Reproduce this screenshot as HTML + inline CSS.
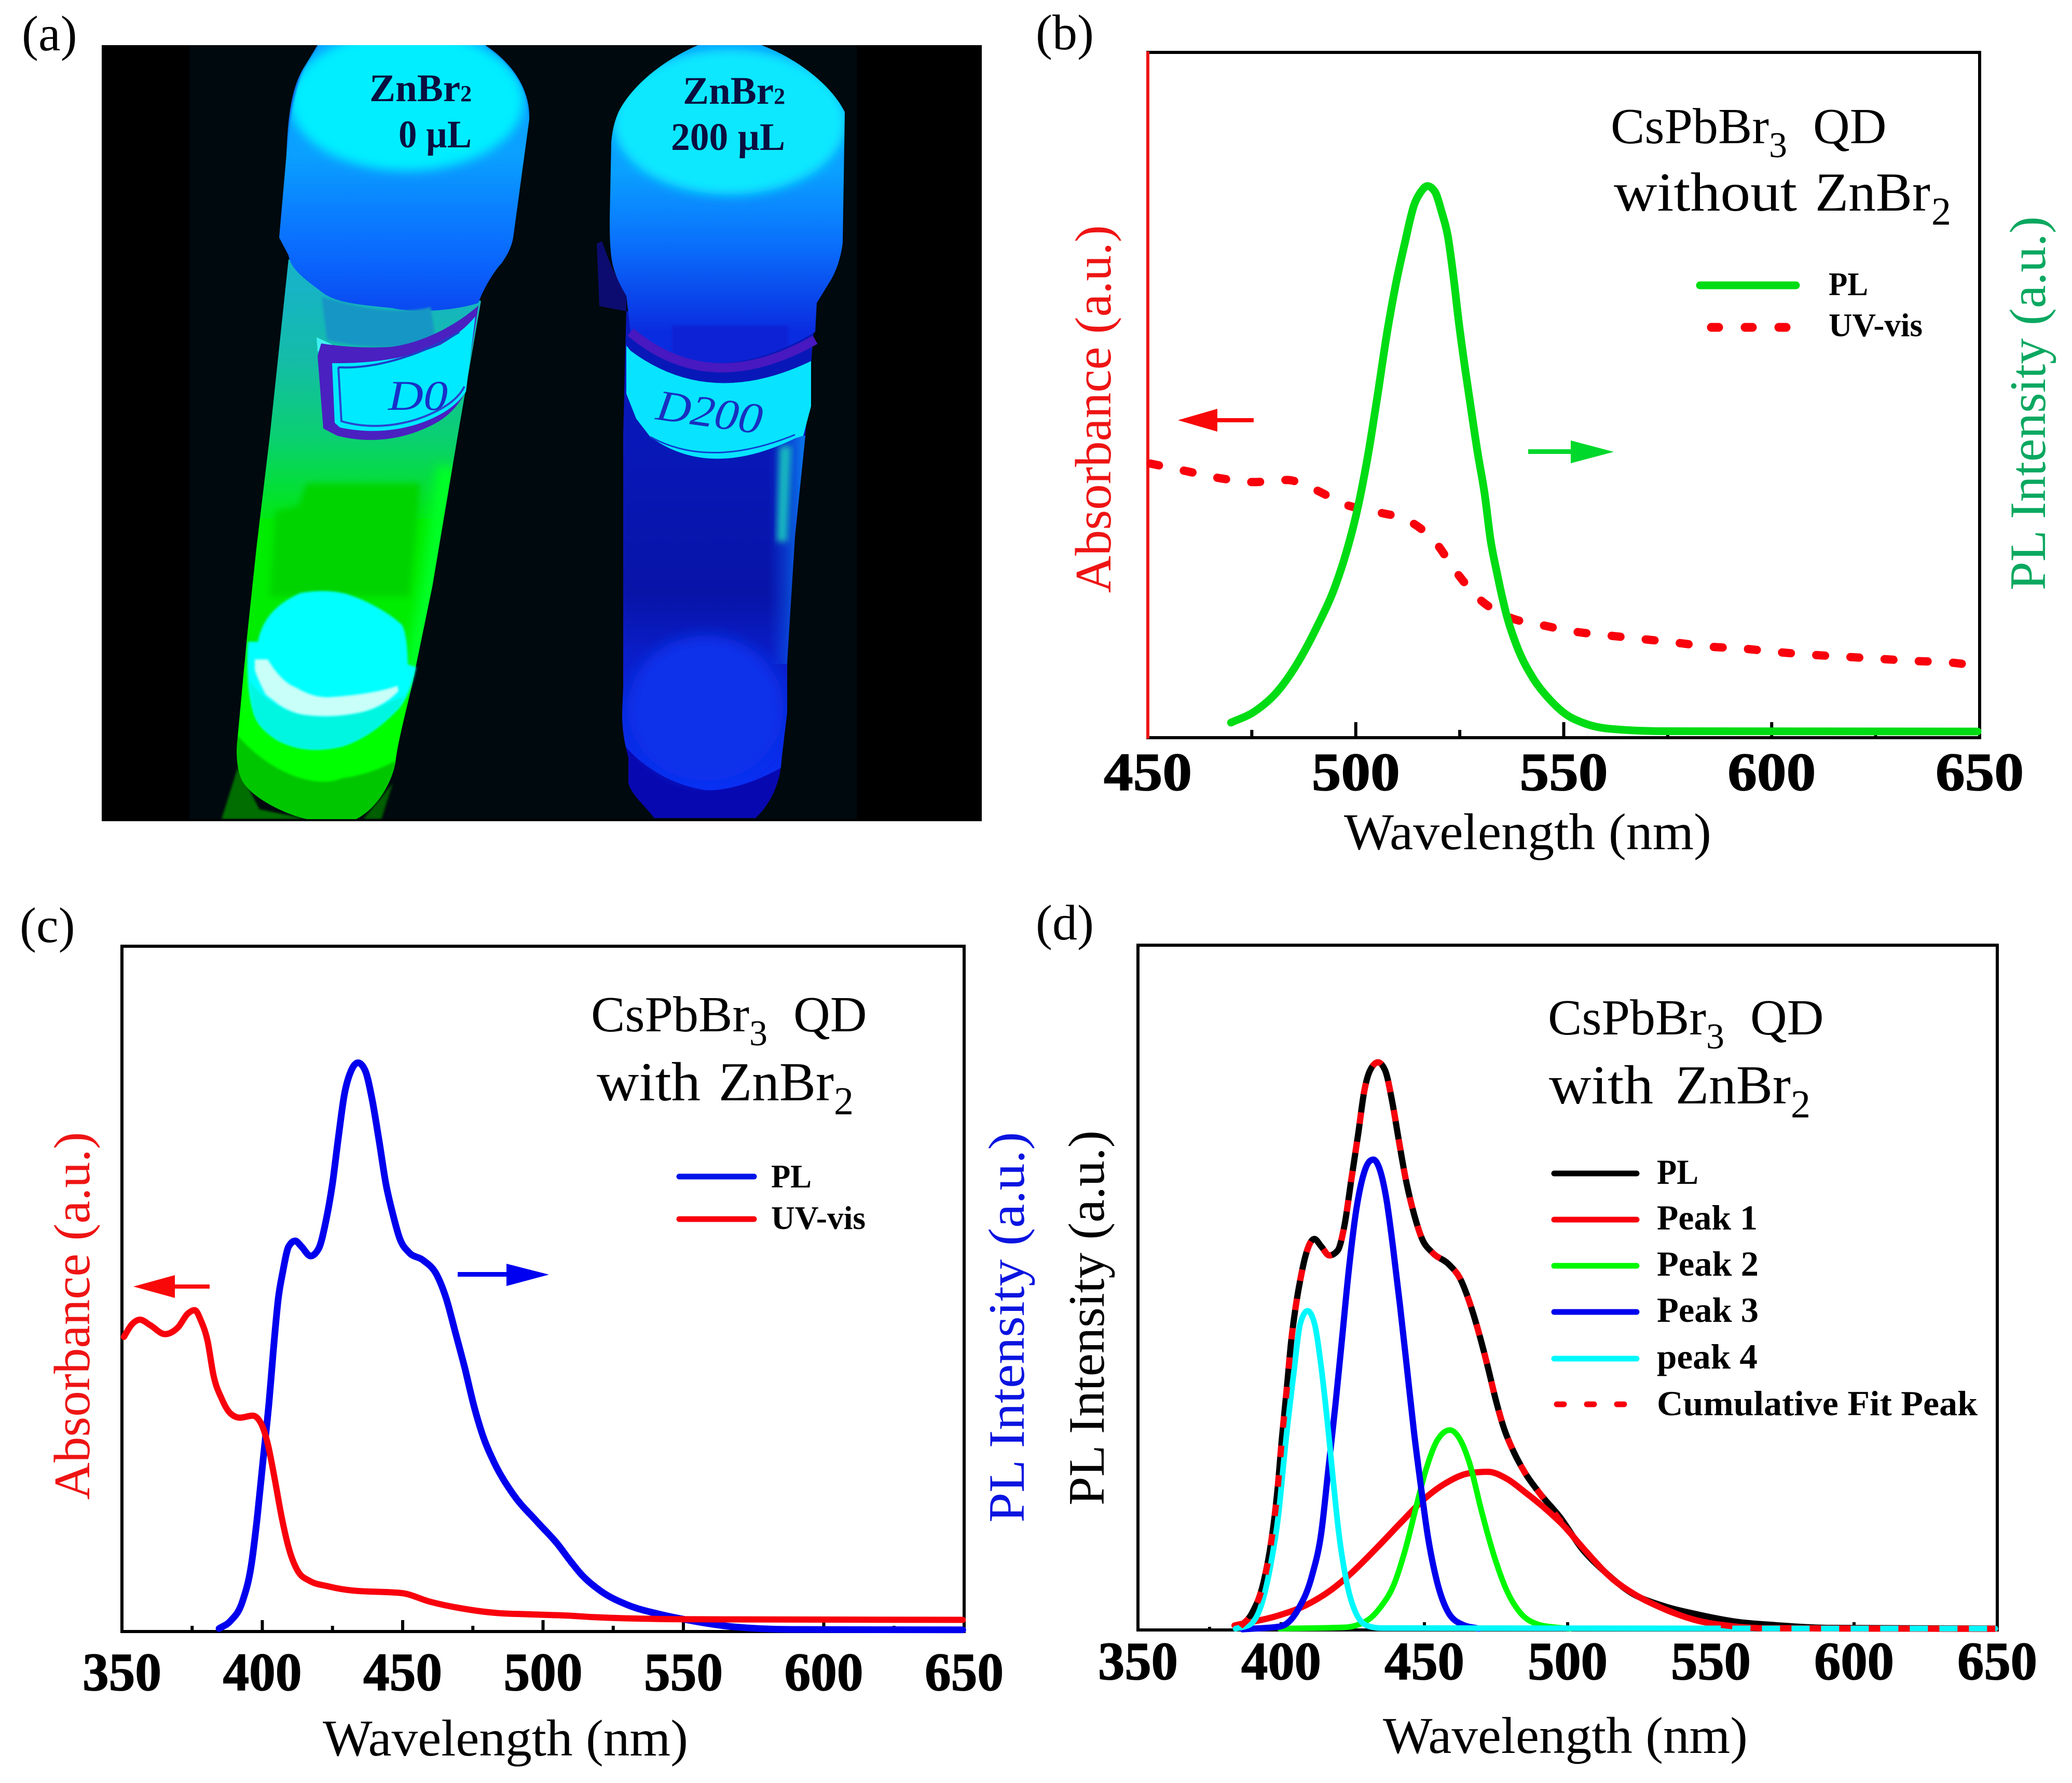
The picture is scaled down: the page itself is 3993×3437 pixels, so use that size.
<!DOCTYPE html>
<html lang="en">
<head>
<meta charset="utf-8">
<title>CsPbBr3 QD optical spectra</title>
<style>
html,body{margin:0;padding:0;background:#fff;}
svg{display:block;}
text{font-family:"Liberation Serif",serif;}
</style>
</head>
<body>
<svg id="figure" xmlns="http://www.w3.org/2000/svg" width="3993" height="3437" viewBox="0 0 3993 3437">
<defs>
<filter id="b2" x="-10%" y="-10%" width="120%" height="120%"><feGaussianBlur stdDeviation="2"/></filter>
<filter id="b6" x="-20%" y="-20%" width="140%" height="140%"><feGaussianBlur stdDeviation="6"/></filter>
<filter id="b10" x="-30%" y="-30%" width="160%" height="160%"><feGaussianBlur stdDeviation="10"/></filter>
<filter id="b14" x="-40%" y="-40%" width="180%" height="180%"><feGaussianBlur stdDeviation="14"/></filter>
<clipPath id="photo-clip"><rect x="196" y="87" width="1696" height="1492"/></clipPath>
<clipPath id="cap1-clip"><path d="M612,87 L935,87 C985,120 1022,170 1020,230 L989,458 C985,480 975,495 967,507 C950,525 930,560 922,584 C880,598 800,605 757,594 C700,588 650,585 623,565 C590,540 560,520 556,492 L538,458 L552,298 C555,230 560,170 587,128 Z"/></clipPath>
<clipPath id="tube1-clip"><path d="M556,500 L927,580 L882,840 L833,1131 L793,1325 C775,1400 765,1440 762,1470 C755,1510 725,1560 686,1579 L592,1579 C550,1570 490,1540 470,1510 C456,1490 454,1450 458,1422 L476,1228 L494,1058 L520,840 Z"/></clipPath>
<clipPath id="cap2-clip"><path d="M1345,87 L1467,87 C1530,110 1600,160 1628,216 L1624,468 C1620,500 1610,525 1601,540 L1574,584 L1571,640 Q1368,760 1215,640 L1207,570 C1195,550 1185,530 1180,507 C1175,480 1175,450 1175,419 L1178,274 C1180,250 1185,232 1192,216 C1215,170 1270,120 1345,87 Z"/></clipPath>
<clipPath id="tube2-clip"><path d="M1207,600 L1571,600 L1552,840 L1532,1034 L1517,1276 L1517,1373 L1506,1465 C1505,1500 1490,1545 1456,1577 L1261,1577 C1240,1550 1215,1530 1211,1509 L1211,1460 C1200,1420 1199,1395 1199,1373 L1201,1325 L1201,840 Z"/></clipPath>
<linearGradient id="tube1" x1="0" y1="560" x2="0" y2="1000" gradientUnits="userSpaceOnUse">
<stop offset="0" stop-color="#16b4c4"/><stop offset=".3" stop-color="#14bca8"/><stop offset=".65" stop-color="#0ad070"/><stop offset="1" stop-color="#00e814"/>
</linearGradient>
<linearGradient id="cap1" x1="0" y1="300" x2="0" y2="600" gradientUnits="userSpaceOnUse">
<stop offset="0" stop-color="#0aa0ff"/><stop offset=".35" stop-color="#0a80ff"/><stop offset=".7" stop-color="#0a64fc"/><stop offset="1" stop-color="#0a48f0"/>
</linearGradient>
<linearGradient id="cap2" x1="0" y1="330" x2="0" y2="640" gradientUnits="userSpaceOnUse">
<stop offset="0" stop-color="#0aa0ff"/><stop offset=".45" stop-color="#0a70fc"/><stop offset="1" stop-color="#0a2ce0"/>
</linearGradient>
<linearGradient id="tube2" x1="0" y1="840" x2="0" y2="1520" gradientUnits="userSpaceOnUse">
<stop offset="0" stop-color="#0818b8"/><stop offset=".45" stop-color="#0814a8"/><stop offset=".62" stop-color="#0a1ec8"/><stop offset="1" stop-color="#0a30f4"/>
</linearGradient>
<linearGradient id="tube2-side" x1="1480" y1="0" x2="1545" y2="0" gradientUnits="userSpaceOnUse">
<stop offset="0" stop-color="#0a40e0" stop-opacity="0"/><stop offset="1" stop-color="#0a70e8"/>
</linearGradient>
</defs>

<g id="panel-a">
<text x="42" y="97" font-size="96">(a)</text>
<g>
<rect x="196" y="87" width="1696" height="1496" fill="#000"/>
<rect x="365" y="87" width="1286" height="1492" fill="#00090d"/>
<g clip-path="url(#photo-clip)">

<g>
<path d="M427,1579 L458,1480 L500,1560 L592,1579 Z" fill="#006e00" filter="url(#b2)"/>
<path d="M735,1579 L757,1510 L700,1579 Z" fill="#005e00" filter="url(#b2)"/>
<g clip-path="url(#tube1-clip)">
<rect x="440" y="500" width="500" height="520" fill="url(#tube1)"/>
<rect x="440" y="1000" width="500" height="600" fill="#00ec00"/>
<path d="M590,932 L810,932 L790,1150 L520,1150 L530,985 L575,975 Z" fill="#00d400" filter="url(#b6)"/>
<path d="M864,900 L833,1131 L793,1325 L762,1470" fill="none" stroke="#00ff28" stroke-width="44" filter="url(#b10)"/>
<rect x="440" y="1400" width="500" height="200" fill="#00c600"/>
<path d="M440,1395 C500,1480 600,1525 660,1500 C700,1495 740,1480 775,1460 L800,1300 L450,1280 Z" fill="#00ff00" filter="url(#b2)"/>
</g>
<path d="M478,1237 L497,1237 C505,1195 530,1165 579,1143 C620,1136 650,1140 668,1145 C710,1158 755,1185 775,1205 C785,1225 785,1260 786,1281 L802,1286 C795,1320 785,1345 770,1363 C735,1400 700,1425 660,1438 C610,1450 570,1445 534,1426 C510,1410 495,1395 489,1373 C478,1345 474,1280 478,1237 Z" fill="#00ffff" filter="url(#b2)"/>
<path d="M480,1310 C530,1385 640,1410 780,1340 L770,1363 C735,1400 700,1425 660,1438 C610,1450 570,1445 534,1426 C510,1410 495,1395 489,1373 Z" fill="#00f6e0" filter="url(#b2)"/>
<path d="M491,1271 L516,1271 C530,1295 550,1318 570,1325 C595,1340 615,1344 632,1344 C670,1342 730,1335 766,1322 L768,1332 C750,1352 725,1365 704,1371 C660,1382 620,1382 587,1378 C565,1375 548,1365 538,1359 L512,1339 C505,1325 495,1305 491,1291 Z" fill="#c8fff8" filter="url(#b2)"/>
<g clip-path="url(#cap1-clip)">
<rect x="500" y="87" width="560" height="530" fill="url(#cap1)"/>
<ellipse cx="784" cy="195" rx="225" ry="134" fill="#00eeff" filter="url(#b10)"/>
<path d="M612,87 L587,128 C570,160 555,230 552,290 L530,200 L540,80 Z M935,87 C985,120 1022,170 1020,230 L1040,100 L980,80 Z" fill="#0a50e0" filter="url(#b2)"/>
</g>
<path d="M620,572 Q750,612 830,592 L840,660 Q730,680 630,655 Z" fill="#1896c4" filter="url(#b2)"/>
<polygon points="610,650 640,664 612,678" fill="#40f0f0"/>
<path d="M619,662 Q680,672 748,669 C800,665 870,635 922,589 L895,760 C880,785 865,800 846,812 C790,845 720,858 650,840 L623,826 L612,686 Z" fill="#4a20c0"/>
<path d="M640,700 Q760,702 848,665 C875,650 900,630 916,610 L898,755 C885,775 865,790 846,800 C790,830 720,838 655,824 L645,815 Z" fill="#00eaff"/>
<path d="M652,708 L658,812 C720,830 790,820 846,790 C865,780 885,765 895,745" fill="none" stroke="#2848d0" stroke-width="4"/>
<path d="M652,708 C730,712 820,680 885,640" fill="none" stroke="#1a40c8" stroke-width="4"/>
<text x="748" y="790" font-size="82" font-style="italic" fill="#1830c8" textLength="115" lengthAdjust="spacingAndGlyphs">D0</text>
</g>

<g>
<path d="M1150,470 L1160,465 C1170,490 1180,530 1207,560 L1207,600 L1155,590 Z" fill="#0c0c70"/>
<g clip-path="url(#tube2-clip)">
<rect x="1190" y="590" width="400" height="1000" fill="#0808b0"/>
<path d="M1190,590 L1590,590 L1530,1465 C1430,1530 1360,1523 1360,1523 C1270,1510 1211,1451 1190,1420 Z" fill="url(#tube2)"/>
<rect x="1480" y="840" width="80" height="440" fill="url(#tube2-side)"/>
<ellipse cx="1360" cy="1365" rx="150" ry="140" fill="#0a30ea" filter="url(#b14)"/>
</g>
<path d="M1502,860 L1525,860 L1517,1044 L1497,1044 Z" fill="#18b8c0" filter="url(#b6)"/>
<g clip-path="url(#cap2-clip)">
<rect x="1150" y="87" width="500" height="640" fill="url(#cap2)"/>
<ellipse cx="1406" cy="235" rx="224" ry="140" fill="#08e8ff" filter="url(#b10)"/>
<rect x="1295" y="628" width="224" height="100" fill="#0a22d4" filter="url(#b2)"/>
</g>
<path d="M1207,666 L1215,676 Q1368,790 1563,696 L1563,783 L1548,840 L1532,845 Q1368,925 1253,842 L1226,807 L1207,759 Z" fill="#08e4ff"/>
<path d="M1215,640 Q1368,770 1571,655" fill="none" stroke="#4818c0" stroke-width="18"/>
<path d="M1253,842 Q1368,905 1532,838" fill="none" stroke="#1040d0" stroke-width="3"/>
<text x="1262" y="808" font-size="84" font-style="italic" fill="#1830c0" transform="rotate(8 1262 808)" textLength="205" lengthAdjust="spacingAndGlyphs">D200</text>
</g>
</g>
</g>
<text x="712" y="195" font-size="75" font-weight="bold" fill="#0a0f40">ZnBr<tspan font-size="44">2</tspan></text>
<text x="768" y="284" font-size="75" font-weight="bold" fill="#0a0f40" textLength="141" lengthAdjust="spacingAndGlyphs">0 µL</text>
<text x="1316" y="200" font-size="75" font-weight="bold" fill="#0a0f40">ZnBr<tspan font-size="44">2</tspan></text>
<text x="1293" y="289" font-size="75" font-weight="bold" fill="#0a0f40" textLength="220" lengthAdjust="spacingAndGlyphs">200 µL</text>
</g>

<g id="panel-b">
<text x="1996" y="95" font-size="96">(b)</text>
<text x="3104" y="276" font-size="98">CsPbBr<tspan font-size="70" dy="27">3</tspan><tspan dy="-27" dx="50">QD</tspan></text>
<text x="3110" y="406" font-size="106" textLength="353" lengthAdjust="spacingAndGlyphs">without</text>
<text x="3498" y="406" font-size="106" textLength="222" lengthAdjust="spacingAndGlyphs">ZnBr</text>
<text x="3722" y="433" font-size="76">2</text>
<text x="2590" y="1637" font-size="100" textLength="708" lengthAdjust="spacingAndGlyphs">Wavelength (nm)</text>
<text transform="translate(2140 1143) rotate(-90)" font-size="99" fill="#ee1414" textLength="709" lengthAdjust="spacingAndGlyphs">Absorbance (a.u.)</text>
<text transform="translate(3941 1138) rotate(-90)" font-size="99" fill="#0aa860" textLength="721" lengthAdjust="spacingAndGlyphs">PL Intensity (a.u.)</text>
<g>
<line x1="3276" y1="550" x2="3461" y2="550" stroke="#00dc14" stroke-width="15" stroke-linecap="round"/>
<text x="3524" y="569" font-size="64" font-weight="bold" textLength="76" lengthAdjust="spacingAndGlyphs">PL</text>
<line x1="3298" y1="631" x2="3460" y2="631" stroke="#f8000c" stroke-width="17" stroke-linecap="round" stroke-dasharray="14 51"/>
<text x="3524" y="648" font-size="64" font-weight="bold" textLength="181" lengthAdjust="spacingAndGlyphs">UV-vis</text>
</g>
<g fill="#f80808"><rect x="2330" y="806" width="86" height="8"/><polygon points="2270,810 2346,788 2346,832"/></g>
<g fill="#00d82c"><rect x="2945" y="866" width="90" height="9"/><polygon points="3110,871 3027,849 3027,893"/></g>
</g>

<g id="panel-c">
<text x="38" y="1816" font-size="96">(c)</text>
<text x="1139" y="1988" font-size="98">CsPbBr<tspan font-size="70" dy="27">3</tspan><tspan dy="-27" dx="50">QD</tspan></text>
<text x="1150" y="2121" font-size="106" textLength="200" lengthAdjust="spacingAndGlyphs">with</text>
<text x="1385" y="2121" font-size="106" textLength="222" lengthAdjust="spacingAndGlyphs">ZnBr</text>
<text x="1607" y="2148" font-size="76">2</text>
<text x="622" y="3384" font-size="100" textLength="704" lengthAdjust="spacingAndGlyphs">Wavelength (nm)</text>
<text transform="translate(172 2891) rotate(-90)" font-size="99" fill="#ee1414" textLength="709" lengthAdjust="spacingAndGlyphs">Absorbance (a.u.)</text>
<text transform="translate(1973 2935) rotate(-90)" font-size="99" fill="#0a14e0" textLength="753" lengthAdjust="spacingAndGlyphs">PL Intensity (a.u.)</text>
<g>
<line x1="1309" y1="2268" x2="1453" y2="2268" stroke="#0014e8" stroke-width="11" stroke-linecap="round"/>
<text x="1486" y="2289" font-size="64" font-weight="bold" textLength="78" lengthAdjust="spacingAndGlyphs">PL</text>
<line x1="1309" y1="2350" x2="1453" y2="2350" stroke="#f8000c" stroke-width="11" stroke-linecap="round"/>
<text x="1486" y="2369" font-size="64" font-weight="bold" textLength="182" lengthAdjust="spacingAndGlyphs">UV-vis</text>
</g>
<g fill="#f80808"><rect x="330" y="2476" width="74" height="8"/><polygon points="257,2480 337,2458 337,2502"/></g>
<g fill="#0000f0"><rect x="882" y="2452" width="100" height="9"/><polygon points="1058,2457 976,2436 976,2479"/></g>
</g>

<g id="panel-d">
<text x="1996" y="1811" font-size="96">(d)</text>
<text x="2983" y="1994" font-size="98">CsPbBr<tspan font-size="70" dy="27">3</tspan><tspan dy="-27" dx="50">QD</tspan></text>
<text x="2985" y="2127" font-size="106" textLength="201" lengthAdjust="spacingAndGlyphs">with</text>
<text x="3229" y="2127" font-size="106" textLength="222" lengthAdjust="spacingAndGlyphs">ZnBr</text>
<text x="3451" y="2154" font-size="76">2</text>
<text x="2665" y="3379" font-size="100" textLength="703" lengthAdjust="spacingAndGlyphs">Wavelength (nm)</text>
<text transform="translate(2127 2902) rotate(-90)" font-size="99" fill="#000" textLength="723" lengthAdjust="spacingAndGlyphs">PL Intensity (a.u.)</text>
<g>
<line x1="2995" y1="2262" x2="3154" y2="2262" stroke="#000" stroke-width="11" stroke-linecap="round"/>
<text x="3193" y="2282" font-size="68" font-weight="bold" textLength="80" lengthAdjust="spacingAndGlyphs">PL</text>
<line x1="2995" y1="2351" x2="3154" y2="2351" stroke="#f8000c" stroke-width="11" stroke-linecap="round"/>
<text x="3193" y="2370" font-size="68" font-weight="bold" textLength="194" lengthAdjust="spacingAndGlyphs">Peak 1</text>
<line x1="2995" y1="2440" x2="3154" y2="2440" stroke="#00f800" stroke-width="11" stroke-linecap="round"/>
<text x="3193" y="2459" font-size="68" font-weight="bold" textLength="196" lengthAdjust="spacingAndGlyphs">Peak 2</text>
<line x1="2995" y1="2529" x2="3154" y2="2529" stroke="#0000ee" stroke-width="11" stroke-linecap="round"/>
<text x="3193" y="2548" font-size="68" font-weight="bold" textLength="196" lengthAdjust="spacingAndGlyphs">Peak 3</text>
<line x1="2995" y1="2619" x2="3154" y2="2619" stroke="#00f8fc" stroke-width="11" stroke-linecap="round"/>
<text x="3193" y="2638" font-size="68" font-weight="bold" textLength="194" lengthAdjust="spacingAndGlyphs">peak 4</text>
<line x1="3000" y1="2707" x2="3130" y2="2707" stroke="#f8000c" stroke-width="11" stroke-linecap="round" stroke-dasharray="14 44"/>
<text x="3193" y="2728" font-size="68" font-weight="bold" textLength="618" lengthAdjust="spacingAndGlyphs">Cumulative Fit Peak</text>
</g>
</g>
</svg>

<script>
/* Shared axis categories */
const bTickLabels = [450, 500, 550, 600, 650];
const bMinorTicks = [475, 525, 575, 625];
const cdTickLabels = [350, 400, 450, 500, 550, 600, 650];
const cdMinorTicks = [375, 425, 475, 525, 575, 625];

/* Panel b: wavelength (nm) and signal (% of frame height) */
const bPlWavelength = [470,475.6,481.1,485.6,490.6,495.1,497.8,500.6,502.9,505.1,507.6,509.6,511.8,514,515.7,517.2,519,520.7,522.1,523.5,524.8,526.3,527.9,529.3,531,532.4,534,536.3,539.1,542.4,546.3,550.8,554.5,561,574,649.5];
const bPlSignal = [2.2,3.8,6.7,10.5,16.1,22.2,27.2,33.9,41.1,49.4,59.4,66.1,72.2,77.7,79.7,80.5,79.7,76.6,73.3,67.2,60.5,53.8,47.2,41.6,35.5,28.9,23.9,17.8,12.8,8.9,5.8,3.3,2.2,1.3,.95,.9];
const bUvWavelength = [450.6,459.2,468,475.3,483.5,490.2,497.6,505.4,512.9,519.3,524,529.6,536.8,545,552.4,561,568.8,576.6,584.8,593.1,601.3,609.6,617.9,626.2,634.1,642.4,649.5];
const bUvSignal = [40,38.9,37.8,37.3,37.6,36.2,34,32.9,31.6,28.4,24.3,20.3,17.6,16.4,15.5,14.9,14.4,13.9,13.3,13,12.5,12.1,11.8,11.5,11.2,11,10.5];

/* Panel c */
const cPlWavelength = [384.6,388.7,392.9,396.2,398.2,400.3,402.4,404,405.7,407.3,409.4,411.7,413.9,417.2,420.1,422.6,425,427.1,429.2,431.7,434.1,436.6,439.1,441.6,444,446.5,449,452.3,457.2,462.2,465.5,468.8,472.1,475.4,478.7,482.8,489.4,497.7,505.1,509.9,513.5,520.6,530,541.8,551.2,567.6,588.8,649.5];
const cPlSignal = [.43,1.55,4.35,10,16.7,25.1,33.5,41.3,48.6,52.5,56.2,57,56.2,54.8,55.9,59.8,65.4,72.1,78.3,81.9,83,81.9,77.7,71.6,65.4,60.9,57.3,55.3,54.2,52,48.6,43.6,38.5,32.9,28.4,24.5,20,16.1,12.8,10.2,8.4,5.9,3.9,2.5,1.7,.7,.3,.25];
const cUvWavelength = [350.7,353.5,356.4,360.1,365.3,370,373.5,375.9,378.2,380.5,382.6,385.5,388.7,392,396.6,399.5,402,404.4,406.9,409.4,412.7,416.8,423.4,431.7,449.8,459.7,471.3,483.6,496,510,518,548.8,588.8,649.5];
const cUvSignal = [43,44.8,45.5,44.7,43.4,44.4,46.4,46.9,45.3,42.4,37.4,34,31.8,31.2,31.5,30.4,27.3,22.3,16.7,12.2,8.8,7.4,6.6,6,5.6,4.35,3.35,2.7,2.5,2.3,2.1,1.8,1.75,1.7];

/* Panel d */
const dPlWavelength = [385.7,389.8,393.8,396.6,398.7,400.3,401.9,403.5,405.1,406.7,408.8,411.6,414,416.8,419.7,422.1,424.5,426.9,429,431,433.8,436.3,438.7,441.1,443.5,446.4,449.2,452.8,458.5,462.6,466.2,469.4,472.2,475.1,477.9,481.2,485.2,490,497.3,505.3,512.7,521.9,533.5,545,558.9,572.7,591.2,649.3];
const dPlSignal = [.5,2.45,6.9,13.1,20.4,28.2,35,42.2,47.3,51.2,55.1,57.1,56,54.7,55.4,59.1,65.8,72.5,78.7,81.7,82.9,81.7,77.3,71.4,65.8,60.7,57.1,55.1,53.4,51.2,47.3,42.8,38.3,33.3,29.3,26,22.9,20.1,16.5,11.7,8.6,5.5,3.5,2.3,1.2,.7,.3,.2];
const dFitWavelength = [385.7,389.8,393.8,396.6,398.7,400.3,401.9,403.5,405.1,406.7,408.8,411.6,414,416.8,419.7,422.1,424.5,426.9,429,431,433.8,436.3,438.7,441.1,443.5,446.4,449.2,452.8,458.5,462.6,466.2,469.4,472.2,475.1,477.9,481.2,485.2,490,497.3,505.3,515,524.2,533.5,545,556.5,568,649.3];
const dFitSignal = [.5,2.45,6.9,13.1,20.4,28.2,35,42.2,47.3,51.2,55.1,57.1,56,54.7,55.4,59.1,65.8,72.5,78.7,81.7,82.9,81.7,77.3,71.4,65.8,60.7,57.1,55.1,53.4,51.2,47.3,42.8,38.3,33.3,29.3,26,22.9,20.1,16,12,7.7,5,3.1,1.4,.6,.25,.17];
const dPeak1Wavelength = [383.7,399.5,408.4,417.3,424.5,433.4,442.3,449.6,457.7,465.8,472.2,478.7,485.2,491.7,498.9,505.3,515,524.2,533.5,545,556.5,568,649.3];
const dPeak1Signal = [.66,2.17,3.57,5.8,8.3,12,15.9,19,21.5,22.9,23.1,22.1,20.1,17.9,15.1,12,7.7,5,3.1,1.4,.6,.25,.17];
const dPeak2Wavelength = [399.5,422.1,430.2,435.1,439.1,443.1,447.2,450.4,454.5,458.9,462.6,465.8,469.8,473.9,478.7,483.6,489.2,495.7,501];
const dPeak2Signal = [.2,.38,1.44,3.57,6.37,11.4,18.1,23.2,27.7,29.2,27.7,24.3,17.6,11.4,5.8,2.45,.88,.38,.2];
const dPeak3Wavelength = [386.5,399.5,405.9,410.8,414,416.4,418.9,421.3,423.7,426.2,428.6,431,432.2,434.2,436.7,439.1,441.5,443.9,446.4,448.8,451.2,454.5,458.5,463.4,469];
const dPeak3Signal = [.1,.5,3,8,14.2,23.2,32.7,42.8,52.9,61.3,66.3,68.5,68.7,67.5,63,55.7,47.3,38.3,28.8,20.9,13.7,6.9,2.45,.76,.2];
const dPeak4Wavelength = [384.1,389,393,396.2,399.1,401.5,404.3,406.7,409.2,411.6,414,416.4,418.1,420.1,422.9,426.1,430.2,435,649.3];
const dPeak4Signal = [.2,.77,3.57,9.2,17,27.1,37.2,44.8,46.6,44.8,38.3,29.3,22.1,14.2,6.9,2.45,.6,.27,.2];

const SVGNS = 'http://www.w3.org/2000/svg';

function make(tag, attrs) {
  const el = document.createElementNS(SVGNS, tag);
  for (const key in attrs) el.setAttribute(key, attrs[key]);
  return el;
}

function axis(domainMin, domainMax, pixelMin, pixelMax) {
  return function (v) {
    return pixelMin + (v - domainMin) / (domainMax - domainMin) * (pixelMax - pixelMin);
  };
}

/* Monotone cubic spline: never overshoots the read data points. */
function smoothPath(points) {
  const n = points.length;
  const slopes = [];
  for (let i = 0; i < n - 1; i++) {
    slopes.push((points[i + 1][1] - points[i][1]) / (points[i + 1][0] - points[i][0]));
  }
  const tangents = [slopes[0]];
  for (let i = 1; i < n - 1; i++) {
    const h0 = points[i][0] - points[i - 1][0];
    const h1 = points[i + 1][0] - points[i][0];
    const parabola = (h1 * slopes[i - 1] + h0 * slopes[i]) / (h0 + h1);
    const limit = Math.min(Math.abs(slopes[i - 1]), Math.abs(slopes[i]), 0.5 * Math.abs(parabola));
    tangents.push((Math.sign(slopes[i - 1]) + Math.sign(slopes[i])) * limit);
  }
  tangents.push(slopes[n - 2]);
  let d = 'M' + points[0][0].toFixed(1) + ',' + points[0][1].toFixed(1);
  for (let i = 0; i < n - 1; i++) {
    const h = (points[i + 1][0] - points[i][0]) / 3;
    d += 'C' + (points[i][0] + h).toFixed(1) + ',' + (points[i][1] + tangents[i] * h).toFixed(1) + ' ' +
      (points[i + 1][0] - h).toFixed(1) + ',' + (points[i + 1][1] - tangents[i + 1] * h).toFixed(1) + ' ' +
      points[i + 1][0].toFixed(1) + ',' + points[i + 1][1].toFixed(1);
  }
  return d;
}

function drawSeries(parent, name, xs, ys, xFn, yFn, color, width, dash, cap) {
  const pts = xs.map(function (x, i) { return [xFn(x), yFn(ys[i])]; });
  const el = make('path', {
    d: smoothPath(pts), fill: 'none', stroke: color, 'stroke-width': width,
    'stroke-linejoin': 'round', 'stroke-linecap': cap || 'round'
  });
  if (dash) el.setAttribute('stroke-dasharray', dash);
  
  
  parent.appendChild(el);
}

function drawAxes(parent, cfg) {
  const frame = make('rect', {
    x: cfg.left, y: cfg.top, width: cfg.right - cfg.left, height: cfg.bottom - cfg.top,
    fill: '#fff', stroke: '#000', 'stroke-width': 6
  });
  
  
  parent.insertBefore(frame, parent.firstChild);
  cfg.ticks.forEach(function (t) {
    const line = make('line', { x1: cfg.x(t), x2: cfg.x(t), y1: cfg.bottom, y2: cfg.bottom - cfg.majorLength, stroke: '#000', 'stroke-width': 6 });
    
    
    parent.appendChild(line);
    const label = make('text', {
      x: cfg.x(t), y: cfg.labelY, 'font-size': 104, 'font-weight': 'bold', 'text-anchor': 'middle',
      fill: '#000', stroke: '#000', 'stroke-width': 1.5,
      textLength: cfg.labelWidth, lengthAdjust: 'spacingAndGlyphs'
    });
    label.textContent = t;
    
    
    parent.appendChild(label);
  });
  cfg.minor.forEach(function (t) {
    const line = make('line', { x1: cfg.x(t), x2: cfg.x(t), y1: cfg.bottom, y2: cfg.bottom - cfg.minorLength, stroke: '#000', 'stroke-width': 6 });
    
    
    parent.appendChild(line);
  });
}

/* Panel b */
const panelB = document.getElementById('panel-b');
const bX = axis(450, 650, 2212, 3815);
const bY = axis(0, 100, 1422, 101);
drawAxes(panelB, { prefix: 'panel-b', left: 2212, right: 3815, top: 101, bottom: 1422, x: bX, ticks: bTickLabels, minor: bMinorTicks, labelY: 1523, labelWidth: 170, majorLength: 30, minorLength: 15 });
const bSpine = make('line', { x1: 2212, x2: 2212, y1: 99, y2: 1424, stroke: '#ee1414', 'stroke-width': 6 });


panelB.appendChild(bSpine);
drawSeries(panelB, 'panel-b-uv-vis-curve', bUvWavelength, bUvSignal, bX, bY, '#f8000c', 16, '17 49');
drawSeries(panelB, 'panel-b-pl-curve', bPlWavelength, bPlSignal, bX, bY, '#00dc14', 15);

/* Panel c */
const panelC = document.getElementById('panel-c');
const cX = axis(350, 650, 235, 1858);
const cY = axis(0, 100, 3145, 1824);
drawAxes(panelC, { prefix: 'panel-c', left: 235, right: 1858, top: 1824, bottom: 3145, x: cX, ticks: cdTickLabels, minor: cdMinorTicks, labelY: 3258, labelWidth: 152, majorLength: 22, minorLength: 11 });
drawSeries(panelC, 'panel-c-pl-curve', cPlWavelength, cPlSignal, cX, cY, '#0000ee', 13);
drawSeries(panelC, 'panel-c-uv-vis-curve', cUvWavelength, cUvSignal, cX, cY, '#f8000c', 12);

/* Panel d */
const panelD = document.getElementById('panel-d');
const dX = axis(350, 650, 2193, 3849);
const dY = axis(0, 100, 3142, 1822);
drawAxes(panelD, { prefix: 'panel-d', left: 2193, right: 3849, top: 1822, bottom: 3142, x: dX, ticks: cdTickLabels, minor: cdMinorTicks, labelY: 3237, labelWidth: 154, majorLength: 15, minorLength: 6 });
drawSeries(panelD, 'panel-d-pl-curve', dPlWavelength, dPlSignal, dX, dY, '#000', 12);
drawSeries(panelD, 'panel-d-peak-1-curve', dPeak1Wavelength, dPeak1Signal, dX, dY, '#f8000c', 12);
drawSeries(panelD, 'panel-d-peak-2-curve', dPeak2Wavelength, dPeak2Signal, dX, dY, '#00f800', 11);
drawSeries(panelD, 'panel-d-peak-3-curve', dPeak3Wavelength, dPeak3Signal, dX, dY, '#0000ee', 12);
drawSeries(panelD, 'panel-d-peak-4-curve', dPeak4Wavelength, dPeak4Signal, dX, dY, '#00f8fc', 11);
drawSeries(panelD, 'panel-d-cumulative-fit-curve', dFitWavelength, dFitSignal, dX, dY, '#f8000c', 12, '22 35', 'butt');
</script>
</body>
</html>
